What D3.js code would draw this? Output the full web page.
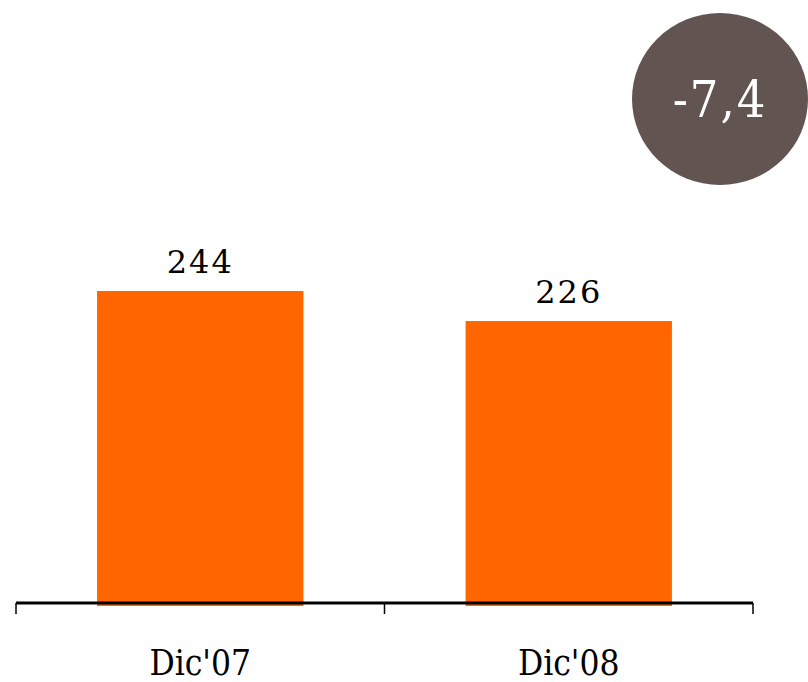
<!DOCTYPE html>
<html>
<head>
<meta charset="utf-8">
<script src="https://cdn.jsdelivr.net/npm/d3@7"></script>
<style>
  body { margin: 0; background: #fff; }
</style>
</head>
<body>
<div id="chart"></div>
<script>
const categories = ["Dic'07", "Dic'08"];
const values = [244, 226];
const changeLabel = "-7,4";

const width = 808;
const height = 682;
const margin = { left: 16, right: 55, axisY: 603, top: 291 };

const svg = d3.select("#chart").append("svg")
  .attr("width", width)
  .attr("height", height);

const x = d3.scaleBand()
  .domain(categories)
  .range([margin.left, width - margin.right])
  .paddingInner(0.44)
  .paddingOuter(0.22);

// axis doesn't start at zero in the original
const y = d3.scaleLinear()
  .domain([57, 244])
  .range([margin.axisY, margin.top]);

svg.selectAll("rect.bar")
  .data(values)
  .enter()
  .append("rect")
  .attr("class", "bar")
  .attr("x", (d, i) => x(categories[i]))
  .attr("y", d => y(d))
  .attr("width", x.bandwidth())
  .attr("height", d => margin.axisY + 3 - y(d))
  .style("fill", "#FF6600");

// axis line with ticks between categories
const edges = d3.scaleLinear().domain([0, categories.length]).range([margin.left, width - margin.right]);
const axis = svg.append("g");
axis.append("line")
  .attr("x1", edges(0)).attr("x2", edges(categories.length))
  .attr("y1", margin.axisY).attr("y2", margin.axisY)
  .attr("stroke", "#000").attr("stroke-width", 3);
d3.range(categories.length + 1).forEach(i => {
  axis.append("line")
    .attr("x1", edges(i)).attr("x2", edges(i))
    .attr("y1", margin.axisY).attr("y2", margin.axisY + 11)
    .attr("stroke", "#000").attr("stroke-width", 1.5);
});

svg.selectAll("text.cat")
  .data(categories)
  .enter()
  .append("text")
  .attr("class", "cat")
  .attr("x", d => x(d) + x.bandwidth() / 2)
  .attr("y", 675)
  .attr("text-anchor", "middle")
  .style("font-family", "'DejaVu Serif Condensed', 'DejaVu Serif', serif")
  .style("font-stretch", "condensed")
  .style("font-size", "35px")
  .text(d => d);

svg.selectAll("text.val")
  .data(values)
  .enter()
  .append("text")
  .attr("class", "val")
  .attr("x", (d, i) => x(categories[i]) + x.bandwidth() / 2)
  .attr("y", d => y(d) - 18)
  .attr("text-anchor", "middle")
  .style("font-family", "'DejaVu Serif', serif")
  .style("font-size", "32px")
  .style("letter-spacing", "2px")
  .text(d => d);

// change bubble
svg.append("ellipse")
  .attr("cx", 720).attr("cy", 99)
  .attr("rx", 88).attr("ry", 86)
  .style("fill", "#625450");

svg.append("text")
  .attr("x", 720)
  .attr("y", 117)
  .attr("text-anchor", "middle")
  .style("font-family", "'DejaVu Serif Condensed', 'DejaVu Serif', serif")
  .style("font-stretch", "condensed")
  .style("font-size", "50px")
  .style("letter-spacing", "2px")
  .style("fill", "#fff")
  .text(changeLabel);
</script>
</body>
</html>
